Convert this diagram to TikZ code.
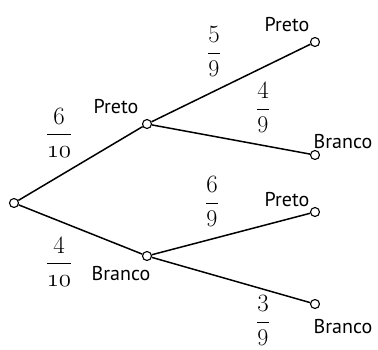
\documentclass[tikz,border=0pt]{standalone}
\usepackage{amsmath}
\usepackage{fontspec}
\setsansfont{PT Sans}
\usepackage{tikz}
\usetikzlibrary{positioning}
\newcommand{\osn}[1]{{\usefont{OML}{cmm}{m}{it}#1}}
\newcommand{\prob}[2]{$\displaystyle\frac{#1}{\mbox{#2}}$}

\begin{document}
\begin{tikzpicture}[x=1pt, y=-1pt,
  knot/.style={circle, draw, fill=white, line width=1.1pt, inner sep=0pt, minimum size=9pt},
  branch/.style={line width=1.5pt},
  result/.style={font=\sffamily\fontsize{20}{24}\selectfont, inner sep=0pt},
  frac/.style={font=\fontsize{24}{28}\selectfont, inner sep=0pt}]
  \useasboundingbox (0,0) rectangle (378,349);

  % nos da arvore
  \node[knot] (root) at (14,203) {};
  \node[knot] (p) at (147,124) {};
  \node[knot] (b) at (147,256) {};
  \node[knot] (pp) at (315,42) {};
  \node[knot] (pb) at (315,155) {};
  \node[knot] (bp) at (315,212) {};
  \node[knot] (bb) at (315,304) {};

  \draw[branch] (root) -- (p);
  \draw[branch] (root) -- (b);
  \draw[branch] (p) -- (pp);
  \draw[branch] (p) -- (pb);
  \draw[branch] (b) -- (bp);
  \draw[branch] (b) -- (bb);

  % cores
  \node[result] (lp) at (116,107) {Preto};
  \node[result] (lb) at (121,274) {Branco};
  \node[result] (lpp) at (287,25) {Preto};
  \node[result] (lpb) at (343,142) {Branco};
  \node[result] (lbp) at (287,200) {Preto};
  \node[result] (lbb) at (343,327) {Branco};

  % probabilidades
  \node[frac] (f1) at (59,133) {\prob{6}{\osn{10}}};
  \node[frac] (f2) at (59,262) {\prob{4}{\osn{10}}};
  \node[frac] (f3) at (214,52) {\prob{5}{9}};
  \node[frac] (f4) at (263,108) {\prob{4}{9}};
  \node[frac] (f5) at (212,202) {\prob{6}{9}};
  \node[frac] (f6) at (263,321) {\prob{3}{9}};
\end{tikzpicture}
\end{document}
